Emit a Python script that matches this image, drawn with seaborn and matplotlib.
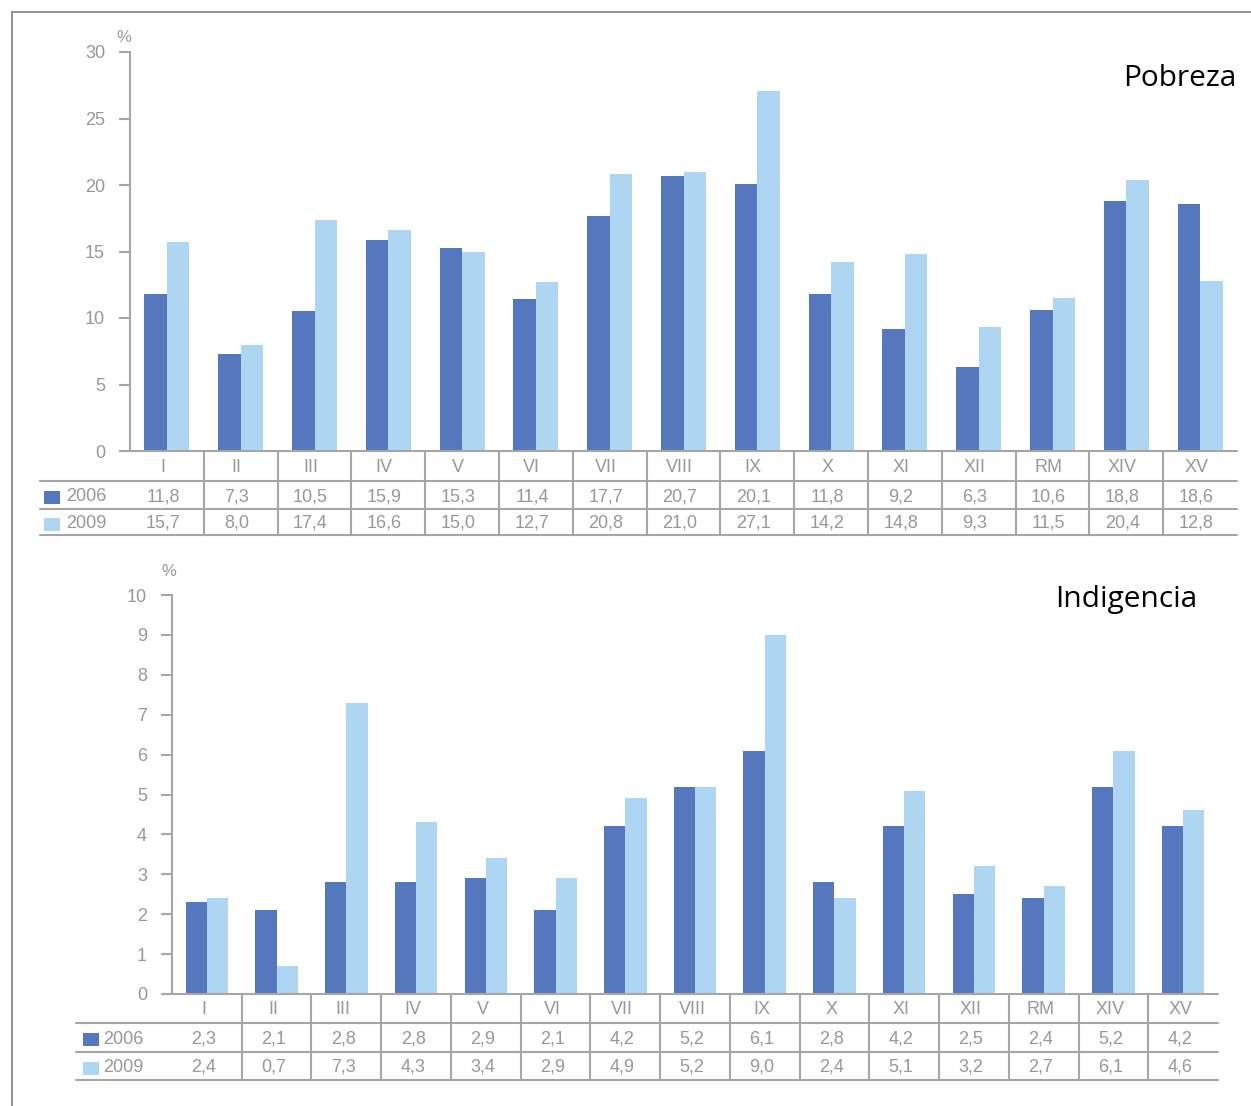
import matplotlib
matplotlib.use("Agg")
import matplotlib.pyplot as plt
import seaborn as sns
import pandas as pd
from matplotlib.lines import Line2D
from matplotlib.patches import Rectangle
from matplotlib.transforms import offset_copy

# Regiones y porcentajes por año
regiones = ["I", "II", "III", "IV", "V", "VI", "VII", "VIII", "IX", "X",
            "XI", "XII", "RM", "XIV", "XV"]
anios = ["2006", "2009"]

pobreza_2006 = [11.8, 7.3, 10.5, 15.9, 15.3, 11.4, 17.7, 20.7, 20.1, 11.8,
                9.2, 6.3, 10.6, 18.8, 18.6]
pobreza_2009 = [15.7, 8.0, 17.4, 16.6, 15.0, 12.7, 20.8, 21.0, 27.1, 14.2,
                14.8, 9.3, 11.5, 20.4, 12.8]

indigencia_2006 = [2.3, 2.1, 2.8, 2.8, 2.9, 2.1, 4.2, 5.2, 6.1, 2.8,
                   4.2, 2.5, 2.4, 5.2, 4.2]
indigencia_2009 = [2.4, 0.7, 7.3, 4.3, 3.4, 2.9, 4.9, 5.2, 9.0, 2.4,
                   5.1, 3.2, 2.7, 6.1, 4.6]

pobreza_ticks = [0, 5, 10, 15, 20, 25, 30]
indigencia_ticks = list(range(0, 11))

AZUL = "#5577BD"
CELESTE = "#AED5F1"
GRIS = "#989898"
LINEA = "#A6A6A6"

W, H = 1251, 1106
sns.set_theme(style="white")
plt.rcParams["font.family"] = ["Liberation Sans", "DejaVu Sans"]

fig = plt.figure(figsize=(W / 100, H / 100), dpi=100)


def fmt(v):
    return f"{v:.1f}".replace(".", ",")


def panel(left, right, top, bottom, v06, v09, ticks, titulo, tit_xy,
          pct_xy, tabla_left, rows, sq_x, txt_x, dx_txt):
    ax = fig.add_axes([left / W, 1 - bottom / H, (right - left) / W,
                       (bottom - top) / H])
    df = pd.DataFrame({
        "region": regiones * 2,
        "anio": [anios[0]] * len(regiones) + [anios[1]] * len(regiones),
        "valor": v06 + v09,
    })
    sns.barplot(data=df, x="region", y="valor", hue="anio",
                order=regiones, hue_order=anios,
                palette=[AZUL, CELESTE], saturation=1, width=0.61,
                linewidth=0, legend=False, ax=ax)
    ax.set_xlim(-0.5, len(regiones) - 0.5)
    ax.set_ylim(ticks[0], ticks[-1])
    ax.set_yticks(ticks)
    ax.set_yticklabels([str(t) for t in ticks], color=GRIS, fontsize=13)
    ax.set_xticks([])
    ax.set_xlabel("")
    ax.set_ylabel("")
    for s in ["top", "right", "bottom"]:
        ax.spines[s].set_visible(False)
    ax.spines["left"].set_color(LINEA)
    ax.spines["left"].set_linewidth(1.5)
    ax.tick_params(axis="y", which="both", left=True, length=8,
                   width=1.5, color=LINEA, pad=10)

    h = bottom - top
    wpx = right - left

    def ay(ypx):
        return (bottom - ypx) / h

    def axx(xpx):
        return (xpx - left) / wpx

    tr = ax.get_xaxis_transform()
    tr_txt = offset_copy(tr, fig=fig, x=dx_txt, y=0, units="dots")
    # línea base
    ax.add_line(Line2D([0, 1], [0, 0], transform=ax.transAxes,
                       color=LINEA, lw=1.5, clip_on=False))
    # líneas horizontales de la tabla
    for ypx in rows[1:]:
        ax.add_line(Line2D([axx(tabla_left), 1], [ay(ypx), ay(ypx)],
                           transform=ax.transAxes, color=LINEA, lw=1.5,
                           clip_on=False))
    # separadores de columnas
    for i in range(1, len(regiones)):
        ax.add_line(Line2D([i - 0.5, i - 0.5], [0, ay(rows[-1])],
                           transform=tr, color=LINEA, lw=1.5,
                           clip_on=False))
    # textos de la tabla
    mids = [(rows[k] + rows[k + 1]) / 2 + 1.5 for k in range(3)]
    for i, r in enumerate(regiones):
        ax.text(i, ay(mids[0]), r, transform=tr_txt, ha="center",
                va="center", color=GRIS, fontsize=13)
        ax.text(i, ay(mids[1]), fmt(v06[i]), transform=tr_txt,
                ha="center", va="center", color=GRIS, fontsize=13)
        ax.text(i, ay(mids[2]), fmt(v09[i]), transform=tr_txt,
                ha="center", va="center", color=GRIS, fontsize=13)
    # leyenda de la tabla
    for k, (anio, col) in enumerate(zip(anios, [AZUL, CELESTE])):
        ym = mids[k + 1]
        ax.add_patch(Rectangle((axx(sq_x), ay(ym + 7)),
                               16 / wpx, 13 / h, transform=ax.transAxes,
                               facecolor=col, edgecolor="none",
                               clip_on=False))
        ax.text(axx(txt_x), ay(ym), anio, transform=ax.transAxes,
                ha="left", va="center", color=GRIS, fontsize=13)
    ax.text(axx(pct_xy[0]), ay(pct_xy[1]), "%", transform=ax.transAxes,
            ha="center", va="center", color=GRIS, fontsize=12)
    ax.text(axx(tit_xy[0]), ay(tit_xy[1]), titulo, transform=ax.transAxes,
            ha="right", va="center", color="black", fontsize=21.5,
            family=["Open Sans", "DejaVu Sans"])
    return ax


panel(130, 1237, 52, 451, pobreza_2006, pobreza_2009, pobreza_ticks,
      "Pobreza", (1236, 79), (124, 37), 40, [451, 481, 509, 535], 44, 66,
      -4)
panel(172, 1218, 595, 994, indigencia_2006, indigencia_2009,
      indigencia_ticks, "Indigencia", (1197, 599), (169, 571), 76,
      [994, 1023, 1052, 1080], 83, 103, -3)

# marco superior e izquierdo
fig.add_artist(Line2D([12 / W, 1], [1 - 12 / H, 1 - 12 / H],
                      transform=fig.transFigure, color="#808080", lw=1.2))
fig.add_artist(Line2D([12 / W, 12 / W], [0, 1 - 12 / H],
                      transform=fig.transFigure, color="#808080", lw=1.2))

fig.savefig("out.png", dpi=100)
